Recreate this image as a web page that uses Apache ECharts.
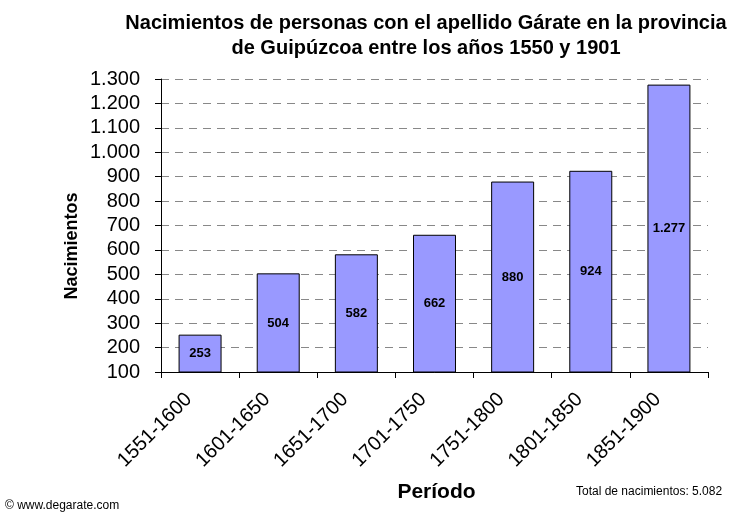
<!DOCTYPE html>
<html>
<head>
<meta charset="utf-8">
<script src="https://cdn.jsdelivr.net/npm/echarts@6/dist/echarts.min.js"></script>
<style>
    html, body { margin: 0; padding: 0; background: #fff; }
    #chart { width: 751px; height: 517px; }
</style>
</head>
<body>
<div id="chart"></div>
<script>
const periodos = ['1551-1600', '1601-1650', '1651-1700', '1701-1750', '1751-1800', '1801-1850', '1851-1900'];
const nacimientos = [253, 504, 582, 662, 880, 924, 1277];

const fmtMiles = v => String(v).replace(/\B(?=(\d{3})+(?!\d))/g, '.');
const total = nacimientos.reduce((a, b) => a + b, 0);
const fuente = 'Liberation Sans, Arial, sans-serif';

const chart = echarts.init(document.getElementById('chart'));

chart.setOption({
    backgroundColor: '#fff',
    textStyle: { fontFamily: fuente },
    title: {
        text: 'Nacimientos de personas con el apellido Gárate en la provincia\nde Guipúzcoa entre los años 1550 y 1901',
        left: 421,
        textAlign: 'center',
        top: 6,
        textStyle: {
            color: '#000',
            fontSize: 20,
            fontWeight: 'bold',
            lineHeight: 25,
            fontFamily: fuente
        }
    },
    grid: { left: 161, right: 43, top: 79, bottom: 145 },
    xAxis: {
        type: 'category',
        data: periodos,
        name: 'Período',
        nameLocation: 'middle',
        nameGap: 110,
        nameTextStyle: { fontSize: 21, fontWeight: 'bold', color: '#000', padding: [0, 0, 0, 4] },
        axisLine: { lineStyle: { color: '#000', width: 1 } },
        axisTick: { show: true, length: 6, lineStyle: { color: '#000' } },
        axisLabel: { rotate: 45, fontSize: 20, color: '#000', margin: 13, padding: [0, 16, 0, 0] }
    },
    yAxis: {
        type: 'value',
        min: 100,
        max: 1300,
        interval: 100,
        axisLine: { show: true, lineStyle: { color: '#000', width: 1 } },
        axisTick: { show: true, length: 6, lineStyle: { color: '#000' } },
        axisLabel: { fontSize: 20, color: '#000', margin: 21, formatter: v => fmtMiles(v) },
        splitLine: {
            show: true,
            lineStyle: { color: '#888', type: [8, 6], width: 1 }
        }
    },
    series: [
        {
            type: 'bar',
            data: nacimientos,
            barCategoryGap: '45%',
            itemStyle: { color: '#9999FF', borderColor: '#000', borderWidth: 1 },
            label: {
                show: true,
                position: 'inside',
                fontSize: 13,
                fontWeight: 'bold',
                color: '#000',
                formatter: p => fmtMiles(p.value)
            }
        }
    ],
    graphic: [
        {
            type: 'text',
            x: 72,
            y: 246,
            rotation: Math.PI / 2,
            style: {
                text: 'Nacimientos',
                fontSize: 18,
                fontWeight: 'bold',
                fill: '#000',
                fontFamily: fuente,
                align: 'center',
                verticalAlign: 'middle'
            }
        },
        {
            type: 'text',
            left: 5,
            top: 500,
            style: { text: '© www.degarate.com', fontSize: 12, fill: '#000', fontFamily: fuente }
        },
        {
            type: 'text',
            left: 576,
            top: 486,
            style: { text: 'Total de nacimientos: ' + fmtMiles(total), fontSize: 12, fill: '#000', fontFamily: fuente }
        }
    ]
});
</script>
</body>
</html>
